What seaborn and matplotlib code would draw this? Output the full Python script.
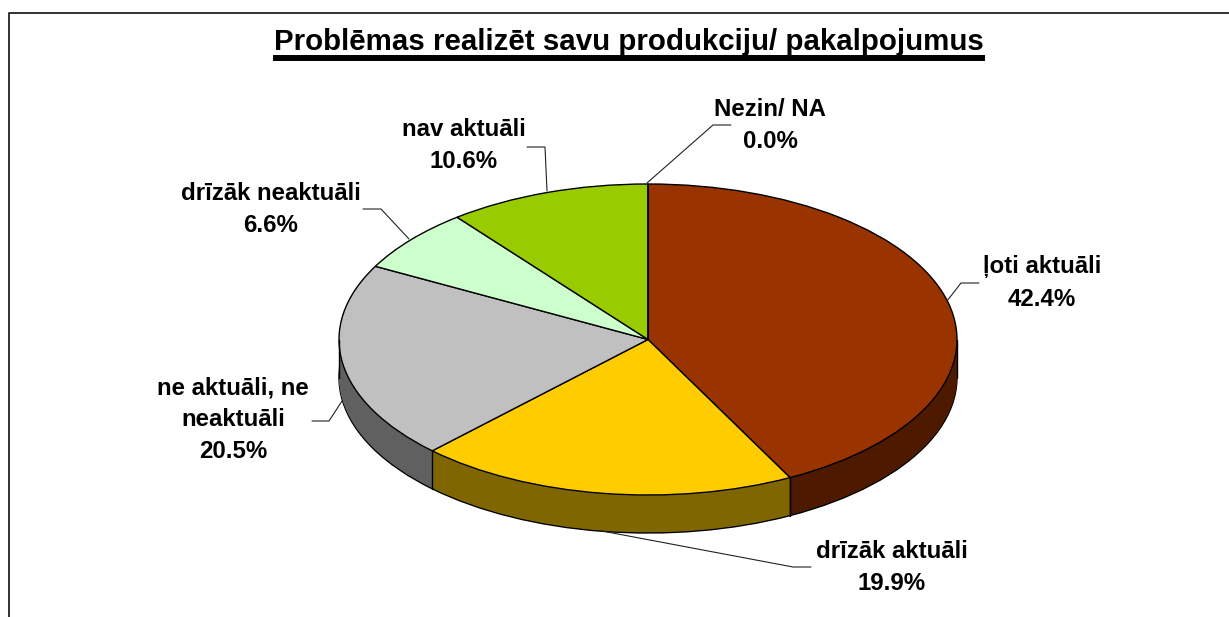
import matplotlib
matplotlib.use('Agg')
import matplotlib.pyplot as plt
import numpy as np
import seaborn as sns

title = 'Problēmas realizēt savu produkciju/ pakalpojumus'
labels = ['ļoti aktuāli', 'drīzāk aktuāli', 'ne aktuāli, ne\nneaktuāli', 'drīzāk neaktuāli', 'nav aktuāli', 'Nezin/ NA']
values = [42.4, 19.9, 20.5, 6.6, 10.6, 0.0]
top_colors = ['#993300', '#FFCC00', '#C0C0C0', '#CCFFCC', '#99CC00', '#FFFFFF']
side_colors = ['#4D1A00', '#806600', '#606060', '#668066', '#4D6600', '#808080']

W, H = 1229, 617
cx, cy = 648, 339.5
rx, ry = 309, 155.5
depth = 38

sns.set_style('white')
plt.rcParams['font.family'] = ['Liberation Sans', 'DejaVu Sans']

fig = plt.figure(figsize=(W / 100, H / 100), dpi=100, facecolor='white')

# pie axes: one data unit is rx pixels across and ry pixels down
ax = fig.add_axes([0, 0, 1, 1])
ax.pie(values, colors=sns.color_palette(side_colors), startangle=90, counterclock=False,
       center=(0, -depth / ry), wedgeprops={'edgecolor': 'black', 'linewidth': 1})
for d in np.arange(depth - 1, 0, -1):
    ax.pie(values, colors=sns.color_palette(side_colors), startangle=90, counterclock=False,
           center=(0, -d / ry), wedgeprops={'linewidth': 0})
ax.pie(values, colors=sns.color_palette(top_colors), startangle=90, counterclock=False,
       wedgeprops={'edgecolor': 'black', 'linewidth': 1})

# vertical seams on the front of the disc
start = 90 - np.cumsum(values) * 3.6
for a in start[:-1]:
    if np.sin(np.radians(a)) < 0:
        x, y = np.cos(np.radians(a)), np.sin(np.radians(a))
        ax.plot([x, x], [y, y - depth / ry], color='black', lw=1)
for side in (-1, 1):
    ax.plot([side, side], [0, -depth / ry], color='black', lw=1)

ax.set_aspect('auto')
ax.set_xlim(-cx / rx, (W - cx) / rx)
ax.set_ylim(-(H - cy) / ry, cy / ry)
ax.axis('off')

# overlay in image pixels for frame, title and labels
over = fig.add_axes([0, 0, 1, 1], facecolor='none')
over.set_xlim(0, W)
over.set_ylim(H, 0)
over.axis('off')

over.plot([9, 9, W], [H, 13, 13], color='#222222', lw=1.3)
over.text(629, 42, title, fontsize=21.26, fontweight='bold', ha='center', va='center', color='black')
over.plot([273, 985], [58, 58], color='black', lw=4.3, solid_capstyle='butt')

leaders = [
    ([947, 961, 979], [301, 283, 283]),
    ([602, 793, 811], [531, 567, 567]),
    ([342, 329, 312], [401, 421, 421]),
    ([409, 381, 363], [239, 209, 209]),
    ([547, 545, 527], [191, 147, 147]),
    ([647, 713, 731], [183, 125, 125]),
]
for xs, ys in leaders:
    over.plot(xs, ys, color='#222222', lw=0.8)

label_pos = [(1042, 283), (892, 568), (233, 420), (271, 210), (464, 146), (770, 126)]
for lab, val, (x, y) in zip(labels, values, label_pos):
    over.text(x, y, f'{lab}\n{val:.1f}%', fontsize=17.3, fontweight='bold', ha='center', va='center',
              color='black', linespacing=1.5)

plt.savefig('out.png', dpi=100)
